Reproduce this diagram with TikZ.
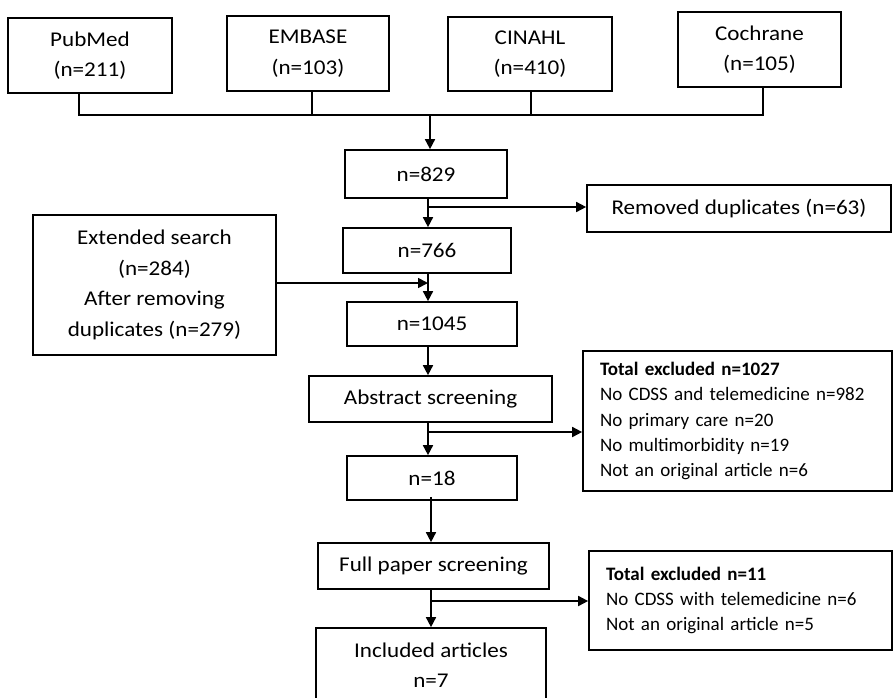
\documentclass[tikz,border=0pt]{standalone}
\usepackage{fontspec}
\setmainfont{Carlito}
\newfontfamily\widefont[FakeStretch=1.1]{Carlito}
\usetikzlibrary{arrows.meta}
\begin{document}
\begin{tikzpicture}[x=1pt,y=-1pt,
  box/.style={draw, line width=1.7pt, inner sep=0pt, align=center, font=\widefont\fontsize{21}{30.5}\selectfont},
  exbox/.style={draw, line width=1.7pt, inner ysep=0pt, inner xsep=17pt, align=left, font=\fontsize{19}{25.3}\selectfont},
  conn/.style={line width=1.7pt},
  arr/.style={line width=1.7pt, -{Triangle[length=10pt,width=10pt]}}
]
\useasboundingbox (0,0) rectangle (893,697);
\fill[white] (0,0) rectangle (893,697);

% sources
\node[box, minimum width=164pt, minimum height=75pt] (pub) at (90,55.5) {PubMed\\(n=211)};
\node[box, minimum width=162pt, minimum height=75pt] (emb) at (308,53.5) {EMBASE\\(n=103)};
\node[box, minimum width=164pt, minimum height=74pt] (cin) at (530,54) {CINAHL\\(n=410)};
\node[box, minimum width=163pt, minimum height=75pt] (coch) at (759.5,49.5) {Cochrane\\(n=105)};

% flow boxes
\node[box, minimum width=162pt, minimum height=48pt] (n829) at (426,174) {n=829};
\node[box, minimum width=304pt, minimum height=47pt] (rem) at (739,208.5) {Removed duplicates (n=63)};
\node[box, minimum width=168pt, minimum height=45pt] (n766) at (427,250.5) {n=766};
\node[box, minimum width=243pt, minimum height=140pt] (ext) at (154.5,285) {Extended search\\(n=284)\\After removing\\duplicates (n=279)};
\node[box, minimum width=170pt, minimum height=44pt] (n1045) at (432,324) {n=1045};
\node[box, minimum width=243pt, minimum height=46pt] (abs) at (430.5,399) {Abstract screening};
\node[box, minimum width=170pt, minimum height=44pt] (n18) at (432,478) {n=18};
\node[box, minimum width=231pt, minimum height=46pt] (full) at (433.5,566) {Full paper screening};
\node[box, minimum width=230pt, minimum height=74pt] (inc) at (431,665) {Included articles\\n=7};

\node[exbox, text width=275pt, minimum height=140pt] (ex1) at (737.5,421)
  {\textbf{Total excluded n=1027}\\No CDSS and telemedicine n=982\\No primary care n=20\\No multimorbidity n=19\\Not an original article n=6};
\node[exbox, text width=269pt, minimum height=99pt] (ex2) at (740.5,600.5)
  {\textbf{Total excluded n=11}\\No CDSS with telemedicine n=6\\Not an original article n=5};

% bus from sources
\coordinate (bl) at (79,115);
\coordinate (be) at (312,115);
\coordinate (bc) at (531,115);
\coordinate (br) at (763,115);
\coordinate (bm) at (430,115);
\draw[conn] (pub.south -| bl) -- (bl) -- (br) -- (coch.south -| br);
\draw[conn] (emb.south -| be) -- (be);
\draw[conn] (cin.south -| bc) -- (bc);
\draw[arr] (bm) -- (n829.north -| bm);

% main flow
\coordinate (m1) at (428,207);
\coordinate (m2) at (428,283);
\coordinate (m3) at (428,432);
\coordinate (m4) at (431,601);
\draw[arr] (n829.south -| m1) -- (n766.north -| m1);
\draw[arr] (m1) -- (rem.west |- m1);
\draw[arr] (n766.south -| m2) -- (n1045.north -| m2);
\draw[arr] (ext.east |- m2) -- (m2);
\draw[arr] (n1045.south -| m3) -- (abs.north -| m3);
\draw[arr] (abs.south -| m3) -- (n18.north -| m3);
\draw[arr] (m3) -- (ex1.west |- m3);
\draw[arr] ([yshift=4pt]n18.south -| m4) -- (full.north -| m4);
\draw[arr] (full.south -| m4) -- (inc.north -| m4);
\draw[arr] (m4) -- (ex2.west |- m4);
\end{tikzpicture}
\end{document}
